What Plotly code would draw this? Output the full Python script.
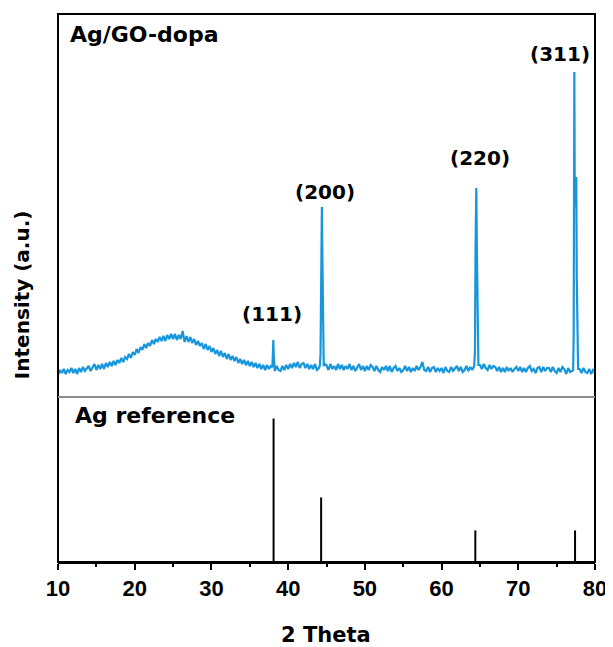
import numpy as np
import plotly.graph_objects as go
from plotly.subplots import make_subplots

# ---------------- data ----------------
# measured pattern: regular 0.25 deg sampling of the background (10..80)
scan_start, scan_stop, scan_step = 10.0, 80.0, 0.25
background_intensity = [
    22, 27, 24, 28,  23, 27, 25, 29,  24, 28, 23, 29,  25, 30, 26, 29,   # 10-13
    31, 26, 30, 33,  27, 32, 28, 33,  28, 34, 30, 35,  31, 36, 32, 37,   # 14-17
    34, 39, 35, 40,  38, 43, 39, 45,  42, 48, 44, 50,  47, 53, 49, 54,   # 18-21
    51, 57, 53, 58,  55, 60, 56, 61,  56, 62, 58, 63,  58, 63, 57, 62,   # 22-25
    58, 66, 55, 61,  55, 60, 54, 58,  52, 56, 51, 54,  48, 53, 47, 51,   # 26-29
    45, 49, 43, 47,  41, 46, 40, 44,  38, 43, 37, 41,  36, 40, 34, 38,   # 30-33
    33, 37, 32, 36,  31, 35, 30, 34,  29, 33, 28, 32,  27, 32, 28, 31,   # 34-37
    28, 26, 31, 27,  26, 31, 27, 32,  28, 33, 29, 34,  30, 35, 29, 33,   # 38-41
    34, 29, 33, 28,  32, 28, 33, 27,  29, 32, 30, 33,  32, 27, 33, 28,   # 42-45
    31, 27, 33, 28,  32, 27, 31, 28,  33, 27, 31, 26,  30, 33, 27, 31,   # 46-49
    26, 31, 27, 32,  30, 26, 31, 27,  25, 30, 27, 31,  26, 31, 25, 29,   # 50-53
    31, 26, 29, 25,  27, 31, 26, 30,  25, 29, 26, 31,  27, 30, 35, 27,   # 54-57
    26, 30, 25, 29,  30, 25, 29, 26,  29, 24, 30, 26,  25, 30, 26, 29,   # 58-61
    31, 26, 30, 25,  27, 31, 26, 30,  27, 31, 31, 32,  32, 28, 33, 29,   # 62-65
    27, 32, 28, 31,  30, 26, 30, 25,  29, 25, 30, 26,  29, 25, 28, 30,   # 66-69
    26, 30, 25, 29,  25, 29, 31, 26,  28, 24, 29, 30,  25, 30, 26, 29,   # 70-73
    29, 25, 30, 26,  24, 29, 25, 30,  28, 23, 29, 25,  26, 26, 28, 27,   # 74-77
    28, 24, 29, 25,  24, 28, 23, 27,  25,                                # 78-80
]

# finely sampled Bragg peaks of the sample
peak_111_theta = [37.95, 38.02, 38.07, 38.12, 38.20]
peak_111_int = [30, 44, 57, 43, 28]
peak_200_theta = [44.12, 44.22, 44.30, 44.35, 44.40, 44.46, 44.54, 44.64]
peak_200_int = [31, 42, 120, 185, 190, 140, 55, 31]
peak_220_theta = [64.25, 64.35, 64.43, 64.48, 64.53, 64.60, 64.70, 64.80]
peak_220_int = [31, 45, 150, 205, 209, 150, 50, 32]
peak_311_theta = [77.15, 77.22, 77.27, 77.31, 77.35, 77.42, 77.50, 77.56, 77.62, 77.70, 77.80]
peak_311_int = [27, 60, 250, 325, 220, 190, 205, 220, 120, 40, 28]

peak_labels = ["(111)", "(200)", "(220)", "(311)"]
label_theta = [37.92, 44.8, 65.03, 75.4]
label_int = [83, 205, 239, 343]

# Ag reference pattern (stick positions and relative intensities)
ref_theta = [38.1, 44.3, 64.4, 77.4]
ref_int = [100, 45, 22, 22]

x_ticks = [10, 20, 30, 40, 50, 60, 70, 80]

# ---------------- assemble measured trace ----------------
grid = np.round(np.arange(scan_start, scan_stop + 1e-9, scan_step), 2)
bg = np.array(background_intensity, dtype=float)
keep = np.ones(len(grid), dtype=bool)
peaks = [(peak_111_theta, peak_111_int), (peak_200_theta, peak_200_int),
         (peak_220_theta, peak_220_int), (peak_311_theta, peak_311_int)]
for px, py in peaks:
    keep &= ~((grid >= min(px) - 1e-9) & (grid <= max(px) + 1e-9))
xs = list(grid[keep])
ys = list(bg[keep])
for px, py in peaks:
    xs += px
    ys += py
order = np.argsort(xs, kind="stable")
meas_x = np.array(xs)[order]
meas_y = np.array(ys)[order]

stick_x, stick_y = [], []
for t, h in zip(ref_theta, ref_int):
    stick_x += [t, t, None]
    stick_y += [0, h, None]

# ---------------- figure ----------------
# the page body has an 8px margin, so the figure is shifted by 8px
W, H = 605, 639
ml, mr, mt, mb = 50, 16, 6, 85
top_h, bot_h = 383, 165
plot_w, plot_h = 539, top_h + bot_h
REF_L, REF_B = 58, 562   # plot-area left / bottom in window pixels

fig = make_subplots(rows=2, cols=1, shared_xaxes=True, vertical_spacing=0,
                    row_heights=[top_h / plot_h, bot_h / plot_h])

BLUE = "#1896dc"
fig.add_trace(go.Scatter(x=meas_x, y=meas_y, mode="lines",
                         line=dict(color=BLUE, width=2.2), showlegend=False),
              row=1, col=1)
fig.add_trace(go.Scatter(x=stick_x, y=stick_y, mode="lines",
                         line=dict(color="black", width=2), showlegend=False),
              row=2, col=1)

TXT = "DejaVu Sans"
for lab, tx, ty in zip(peak_labels, label_theta, label_int):
    fig.add_annotation(x=tx, y=ty, xref="x", yref="y", text="<b>%s</b>" % lab,
                       showarrow=False, font=dict(family=TXT, size=20, color="black"),
                       xanchor="center", yanchor="middle")

fig.add_annotation(x=11.26, y=363, xref="x", yref="y", text="<b>Ag/GO-dopa</b>",
                   showarrow=False, font=dict(family=TXT, size=22, color="black"),
                   xanchor="left", yanchor="middle")
fig.add_annotation(x=12.0, y=102, xref="x2", yref="y2", text="<b>Ag reference</b>",
                   showarrow=False, font=dict(family=TXT, size=22, color="black"),
                   xanchor="left", yanchor="middle")

fig.add_annotation(x=(22 - REF_L) / plot_w, y=(REF_B - 295) / plot_h,
                   xref="paper", yref="paper", text="<b>Intensity (a.u.)</b>",
                   textangle=-90, showarrow=False,
                   font=dict(family=TXT, size=20, color="black"),
                   xanchor="center", yanchor="middle")
fig.add_annotation(x=(326.7 - REF_L) / plot_w, y=(REF_B - 635) / plot_h,
                   xref="paper", yref="paper", text="<b>2 Theta</b>",
                   showarrow=False, font=dict(family=TXT, size=21, color="black"),
                   xanchor="center", yanchor="middle")

fig.update_xaxes(range=[10, 80], showgrid=False, zeroline=False)
fig.update_xaxes(showticklabels=False, ticks="", showline=False, row=1, col=1)
fig.update_xaxes(tickvals=x_ticks, ticks="outside", ticklen=6, tickwidth=2,
                 tickcolor="black", showline=True, linecolor="black", linewidth=2,
                 minor=dict(dtick=5, tick0=10, ticks="outside", ticklen=3,
                            tickwidth=2, tickcolor="black"),
                 tickfont=dict(family="Liberation Sans", size=22, color="black",
                               weight="bold"),
                 ticklabelstandoff=0,
                 row=2, col=1)
fig.update_yaxes(showgrid=False, zeroline=False, showticklabels=False, ticks="")
fig.update_yaxes(range=[0, top_h], row=1, col=1)
fig.update_yaxes(range=[0, 115], row=2, col=1)

div_y = bot_h / plot_h
fig.update_layout(
    width=W, height=H,
    margin=dict(l=ml, r=mr, t=mt, b=mb, pad=0),
    paper_bgcolor="white", plot_bgcolor="white",
    shapes=[
        dict(type="rect", xref="paper", yref="paper", x0=0, x1=1, y0=0, y1=1,
             line=dict(color="black", width=2)),
        dict(type="line", xref="paper", yref="paper", x0=0, x1=1, y0=div_y, y1=div_y,
             line=dict(color="#8c8c8c", width=2)),
    ],
)

fig.write_html("out.html")
